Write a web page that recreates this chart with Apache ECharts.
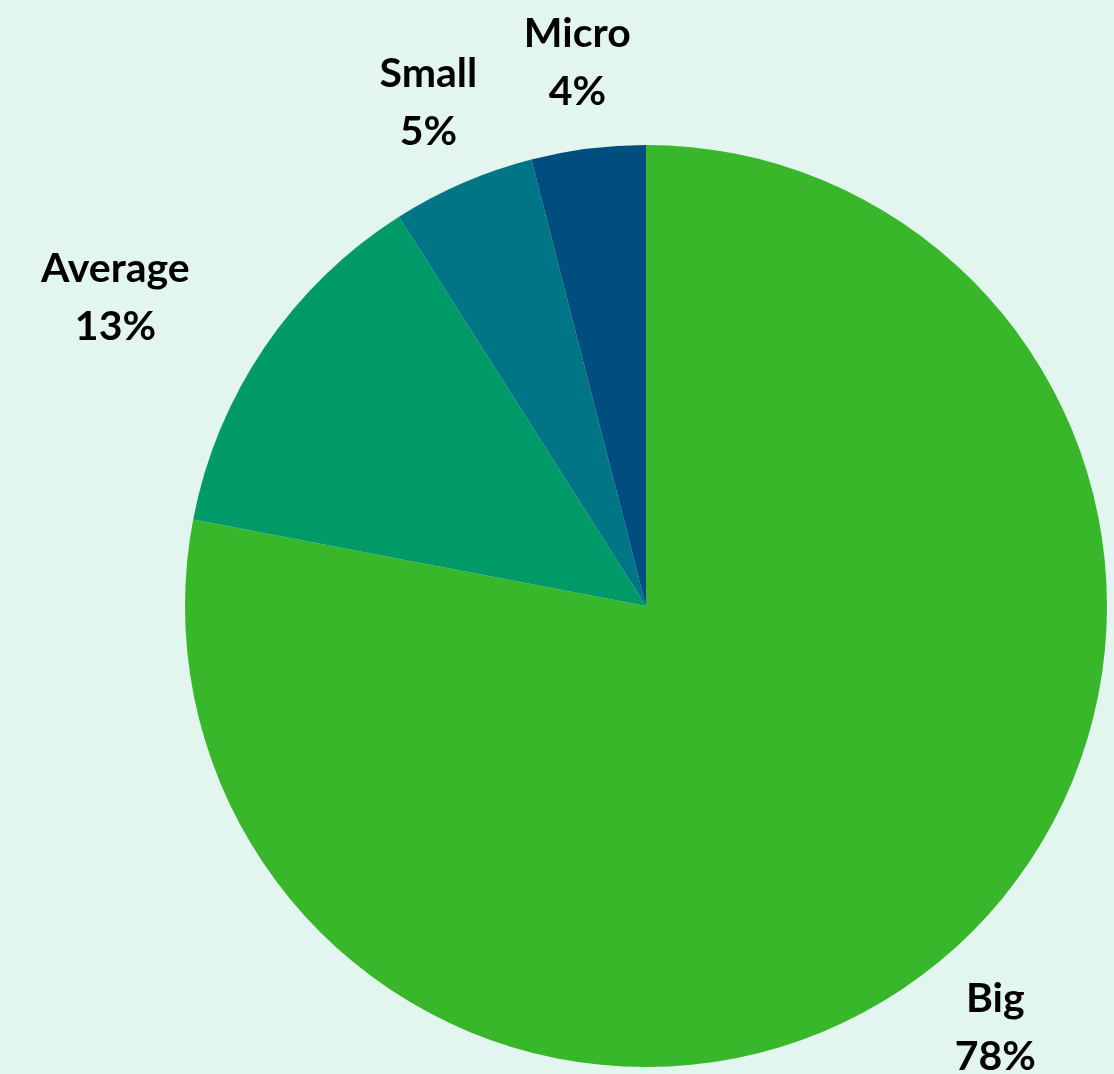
<!DOCTYPE html>
<html>
<head>
<meta charset="utf-8">
<script src="https://cdn.jsdelivr.net/npm/echarts@6/dist/echarts.min.js"></script>
<style>
html,body{margin:0;padding:0;background:#e2f5ee;}
#chart{width:1114px;height:1074px;}
</style>
</head>
<body>
<div id="chart"></div>
<script>
const categories = ['Big', 'Average', 'Small', 'Micro'];
const values = [78, 13, 5, 4];
const colors = ['#38b72a', '#009a68', '#007585', '#004d80'];

const chart = echarts.init(document.getElementById('chart'));
chart.setOption({
  backgroundColor: '#e2f5ee',
  animation: false,
  series: [{
    type: 'pie',
    center: [646, 606],
    radius: 461,
    startAngle: 90,
    clockwise: true,
    avoidLabelOverlap: false,
    data: categories.map((c, i) => ({ name: c, value: values[i], itemStyle: { color: colors[i] } })),
    itemStyle: { borderWidth: 0 },
    label: {
      show: true,
      position: 'outside',
      formatter: '{b}\n{c}%',
      fontFamily: 'Lato',
      fontWeight: 'bold',
      fontSize: 41,
      lineHeight: 58,
      color: '#000',
      distanceToLabelLine: 0
    },
    labelLine: { show: false, length: 87, length2: 0 },
    labelLayout: function (params) {
      const r = params.labelRect;
      if (params.dataIndex === 1) {
        return { x: r.x + r.width / 2 - 3, align: 'center' };
      }
      return { align: 'center' };
    },
    emphasis: { disabled: true }
  }]
});
</script>
</body>
</html>
